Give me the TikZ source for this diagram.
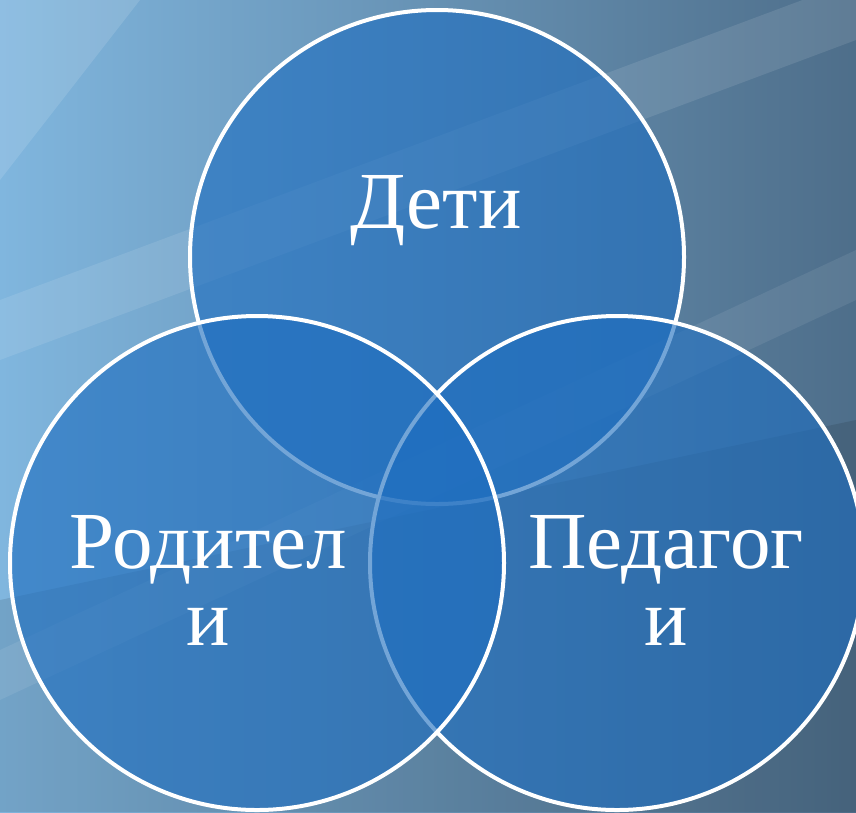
\documentclass[tikz,border=0pt]{standalone}
\usepackage{fontspec}
\setmainfont{Liberation Serif}
\definecolor{bgA}{RGB}{128,182,222}
\definecolor{bgC}{RGB}{78,110,138}
\definecolor{circfill}{RGB}{30,110,192}
\tikzset{
  venn/.style={circle, minimum size=494pt, inner sep=0pt, fill=circfill, fill opacity=0.62, draw=white, draw opacity=1, line width=4pt},
  lbl/.style={text=white, font=\fontsize{81}{77}\selectfont, align=center, text opacity=1}
}
\begin{document}
\begin{tikzpicture}[x=1pt,y=-1pt]
\useasboundingbox (0,0) rectangle (856,812);
\shade[left color=bgA, right color=bgC] (0,0) rectangle (856,812);
\fill[black, opacity=0.10] (0,812) -- (0,600) -- (856,420) -- (856,812) -- cycle;
\fill[white, opacity=0.10] (0,300) -- (0,360) -- (856,40) -- (856,-20) -- cycle;
\fill[white, opacity=0.08] (0,650) -- (0,700) -- (856,300) -- (856,250) -- cycle;
\fill[white, opacity=0.12] (0,0) -- (140,0) -- (0,180) -- cycle;
\begin{scope}
\clip (0,0) rectangle (856,812);
\node[venn] (deti) at (437,257) {};
\node[venn] (ped) at (617,563) {};
\node[venn] (rod) at (257,563) {};
\end{scope}
\node[lbl] (tdeti) at (436,211) {Дети};
\node[lbl] (trod) at (208,580) {Родител\\и};
\node[lbl] (tped) at (666,580) {Педагог\\и};
\end{tikzpicture}
\end{document}
